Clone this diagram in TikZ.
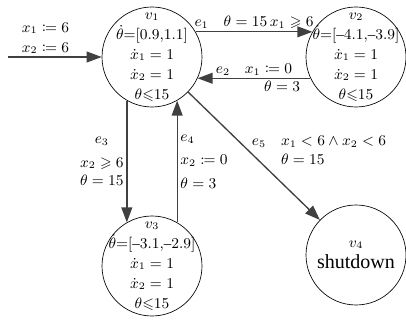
\documentclass[tikz,border=0pt]{standalone}
\usepackage{fontspec}
\setmainfont{Liberation Serif}
\usepackage{amsmath,amssymb}
\usepackage{mathtools}
\usetikzlibrary{arrows.meta}
\newcommand{\mdash}{\mbox{--}}
\tikzset{
  state/.style={circle, draw, thin, minimum size=60pt, inner sep=0pt},
  statetext/.style={align=center, font=\small, inner sep=0pt},
  trans/.style={draw=black!75, line width=0.8pt},
  translabel/.style={font=\small, inner sep=1.5pt},
}
\begin{document}
\begin{tikzpicture}[x=0.6pt, y=-0.6pt, >={Triangle[length=9pt,width=6.5pt]}]
            \useasboundingbox (0,0) rectangle (406,320);
            \node[state] (v1) at (152,57) {}; %状態v1
            \node[state] (v2) at (356,57) {}; %状態v2
            \node[state] (v3) at (152,266) {}; %状態v3
            \node[state] (v4) at (356,255) {}; %状態v4
            \node[statetext] (v1text) at (v1) {$v_1$\\[1pt] $\dot{\theta}{=}[0.9{,}1.1]$\\[1pt] $\dot{x}_1=1$\\[1pt] $\dot{x}_2=1$\\[1pt] $\theta{\leqslant}15$};
            \node[statetext] (v2text) at (v2) {$v_2$\\[1pt] $\dot{\theta}{=}[\mdash4.1{,}\mdash3.9]$\\[1pt] $\dot{x}_1=1$\\[1pt] $\dot{x}_2=1$\\[1pt] $\theta{\leqslant}15$};
            \node[statetext] (v3text) at (v3) {$v_3$\\[1pt] $\dot{\theta}{=}[\mdash3.1{,}\mdash2.9]$\\[1pt] $\dot{x}_1=1$\\[1pt] $\dot{x}_2=1$\\[1pt] $\theta{\leqslant}15$};
            \node[statetext] (v4text) at (v4) {$v_4$\\[2pt] {\large shutdown}};
            \coordinate (init) at (8,57); %初期遷移
            \draw[trans,->] (init) -- (v1.west) node[translabel, pos=0.4, above, align=center] {$x_1\coloneqq6$\\[1pt] $x_2\coloneqq6$};
            \draw[trans,->] (v1.30) -- (v2.150) node[translabel, midway, above] {$e_1$\quad$\theta=15\,x_1\geqslant6$}; %e1
            \draw[trans,->] (v2.205) -- (v1.-25) node[translabel, midway, above] {$e_2$\quad$x_1\coloneqq0$}
                node[translabel, pos=0.25, below] {$\theta=3$}; %e2
            \draw[trans,->] (v1.240) -- (v3.120) node[translabel, midway, left, align=center] {$e_3$\\[3pt] $x_2\geqslant6$\\ $\theta=15$}; %e3
            \draw[trans,->] (v3.60) -- (v1.300) node[translabel, midway, right, align=left] {$e_4$\\[3pt] $x_2\coloneqq0$\\[3pt] $\theta=3$}; %e4
            \draw[trans,->] (v1) -- (v4) node[translabel, pos=0.46, right, align=left] {$e_5$\quad$x_1<6\wedge x_2<6$\\ \phantom{$e_5$\quad}$\theta=15$}; %e5
        \end{tikzpicture}
\end{document}
